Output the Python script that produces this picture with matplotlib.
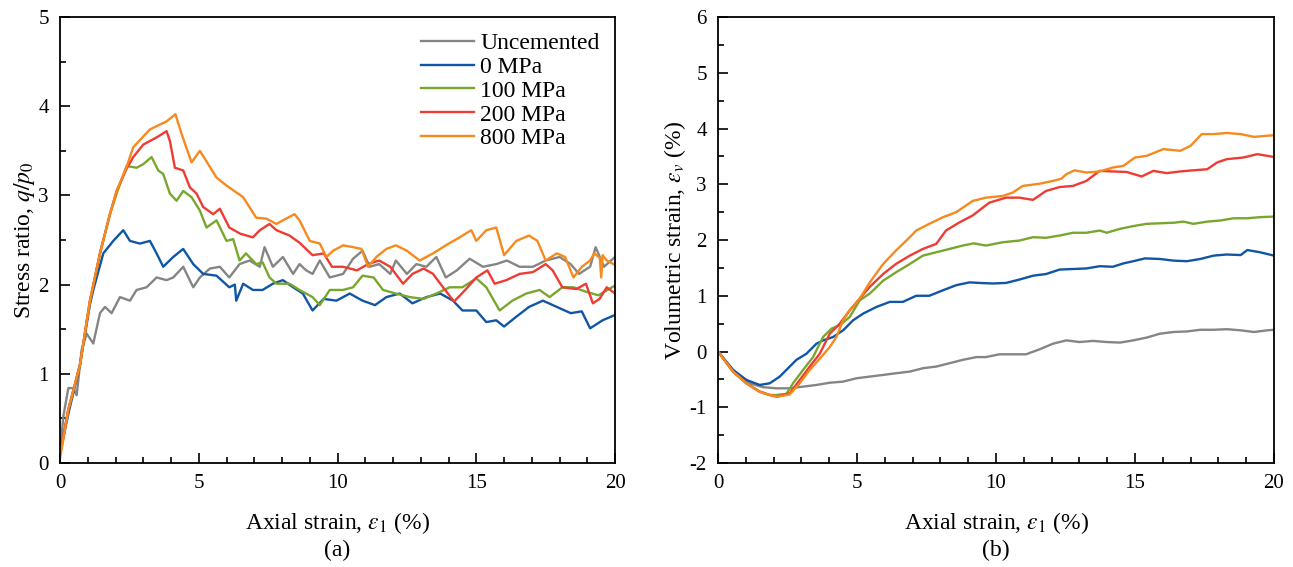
import numpy as np
import matplotlib.pyplot as plt

plt.rcParams['font.family'] = 'Liberation Serif'
plt.rcParams['mathtext.fontset'] = 'stix'
plt.rcParams['axes.unicode_minus'] = False

labels = ['Uncemented', '0 MPa', '100 MPa', '200 MPa', '800 MPa']
colors = ['#858585', '#1156a5', '#78a72d', '#ee3b33', '#f68a1e']

# (a) stress ratio q/p0 vs axial strain
qp_x = [
    [0, 0.12, 0.3, 0.48, 0.6, 0.78, 0.96, 1.2, 1.44, 1.62, 1.86, 2.16, 2.52, 2.76, 3.12, 3.48, 3.84, 4.08,
     4.44, 4.8, 5.04, 5.4, 5.76, 6.1, 6.47, 6.83, 7.2, 7.37, 7.67, 8.03, 8.4, 8.63, 8.87, 9.1, 9.36, 9.72,
     10.2, 10.56, 10.9, 11.16, 11.5, 11.9, 12.1, 12.5, 12.84, 13.2, 13.56, 13.9, 14.3, 14.76, 15.24, 15.72,
     16.1, 16.56, 17.04, 17.5, 18.0, 18.4, 18.7, 19.1, 19.3, 19.6, 20],
    [0, 0.3, 0.72, 1.08, 1.2, 1.56, 1.92, 2.28, 2.52, 2.88, 3.24, 3.48, 3.72, 4.08, 4.44, 4.8, 5.16, 5.64,
     6.1, 6.3, 6.35, 6.6, 6.95, 7.3, 7.67, 8.03, 8.4, 8.75, 9.1, 9.5, 9.96, 10.44, 10.9, 11.35, 11.76,
     12.24, 12.7, 13.2, 13.7, 14.16, 14.5, 15.0, 15.36, 15.72, 16.0, 16.44, 16.9, 17.4, 17.9, 18.4, 18.8,
     19.1, 19.55, 20],
    [0, 0.3, 0.72, 1.08, 1.44, 1.8, 2.04, 2.4, 2.76, 3.0, 3.3, 3.54, 3.72, 3.96, 4.2, 4.44, 4.74, 5.04,
     5.28, 5.64, 6.0, 6.24, 6.47, 6.7, 7.07, 7.3, 7.55, 7.8, 8.27, 8.63, 9.1, 9.36, 9.72, 10.2, 10.56,
     10.9, 11.3, 11.64, 12.1, 12.6, 13.1, 13.56, 14.04, 14.5, 15.0, 15.36, 15.84, 16.3, 16.8, 17.28,
     17.64, 18.1, 18.5, 18.95, 19.4, 20],
    [0, 0.3, 0.72, 1.08, 1.44, 1.8, 2.04, 2.4, 2.64, 3.0, 3.48, 3.84, 3.96, 4.14, 4.44, 4.68, 4.92, 5.16,
     5.52, 5.76, 6.1, 6.5, 6.95, 7.2, 7.55, 7.8, 8.27, 8.63, 9.1, 9.5, 9.8, 10.2, 10.7, 11.1, 11.5, 11.9,
     12.36, 12.7, 13.1, 13.44, 13.8, 14.2, 14.6, 15.0, 15.4, 15.66, 16.08, 16.56, 17.04, 17.5, 17.75,
     18.1, 18.6, 18.95, 19.2, 19.44, 19.7, 20],
    [0, 0.3, 0.72, 1.08, 1.44, 1.8, 2.04, 2.4, 2.64, 3.24, 3.84, 4.16, 4.38, 4.74, 5.04, 5.64, 6.0, 6.6,
     7.07, 7.43, 7.8, 8.03, 8.45, 8.63, 9.0, 9.36, 9.6, 9.84, 10.2, 10.56, 10.86, 11.1, 11.4, 11.76,
     12.1, 12.5, 12.96, 13.44, 13.9, 14.4, 14.82, 15.0, 15.36, 15.72, 16.0, 16.44, 16.9, 17.2, 17.5,
     17.9, 18.2, 18.5, 18.8, 19.1, 19.25, 19.45, 19.5, 19.55, 19.7, 20],
]
qp_y = [
    [0.1, 0.52, 0.84, 0.84, 0.76, 1.27, 1.45, 1.34, 1.68, 1.75, 1.68, 1.86, 1.82, 1.94, 1.97, 2.08, 2.05,
     2.08, 2.2, 1.97, 2.08, 2.18, 2.2, 2.08, 2.23, 2.27, 2.2, 2.42, 2.2, 2.31, 2.12, 2.23, 2.16, 2.12,
     2.27, 2.08, 2.12, 2.29, 2.38, 2.2, 2.23, 2.12, 2.27, 2.12, 2.23, 2.2, 2.31, 2.08, 2.16, 2.29, 2.2,
     2.23, 2.27, 2.2, 2.2, 2.27, 2.31, 2.23, 2.12, 2.2, 2.42, 2.2, 2.31],
    [0.1, 0.55, 1.1, 1.78, 1.94, 2.35, 2.49, 2.61, 2.49, 2.46, 2.49, 2.35, 2.2, 2.31, 2.4, 2.23, 2.12,
     2.1, 1.97, 2.0, 1.82, 2.01, 1.94, 1.94, 2.01, 2.05, 1.97, 1.9, 1.71, 1.84, 1.82, 1.9, 1.82, 1.77,
     1.86, 1.9, 1.79, 1.86, 1.9, 1.82, 1.71, 1.71, 1.58, 1.6, 1.53, 1.64, 1.75, 1.82, 1.75, 1.68, 1.7,
     1.51, 1.6, 1.66],
    [0.1, 0.6, 1.1, 1.82, 2.35, 2.79, 3.02, 3.33, 3.31, 3.35, 3.43, 3.28, 3.24, 3.02, 2.94, 3.05, 2.98,
     2.83, 2.64, 2.72, 2.49, 2.51, 2.27, 2.35, 2.23, 2.25, 2.08, 2.01, 2.01, 1.94, 1.86, 1.77, 1.94,
     1.94, 1.97, 2.1, 2.08, 1.94, 1.9, 1.86, 1.84, 1.9, 1.97, 1.97, 2.07, 1.97, 1.71, 1.82, 1.9, 1.94,
     1.86, 1.97, 1.97, 1.92, 1.88, 1.99],
    [0.1, 0.6, 1.1, 1.82, 2.35, 2.79, 3.05, 3.3, 3.43, 3.57, 3.65, 3.72, 3.61, 3.31, 3.28, 3.09, 3.02,
     2.87, 2.79, 2.85, 2.64, 2.57, 2.53, 2.61, 2.68, 2.61, 2.55, 2.47, 2.33, 2.35, 2.2, 2.2, 2.16, 2.23,
     2.27, 2.2, 2.01, 2.12, 2.18, 2.12, 1.97, 1.81, 1.94, 2.08, 2.16, 2.01, 2.05, 2.12, 2.14, 2.23, 2.16,
     1.97, 1.95, 2.01, 1.79, 1.84, 1.97, 1.9],
    [0.05, 0.6, 1.1, 1.82, 2.35, 2.79, 3.05, 3.32, 3.54, 3.74, 3.83, 3.91, 3.69, 3.37, 3.5, 3.2, 3.11,
     2.98, 2.75, 2.74, 2.68, 2.72, 2.79, 2.72, 2.49, 2.46, 2.31, 2.38, 2.44, 2.42, 2.4, 2.2, 2.31, 2.4,
     2.44, 2.38, 2.27, 2.35, 2.44, 2.53, 2.61, 2.49, 2.61, 2.64, 2.33, 2.49, 2.55, 2.49, 2.27, 2.35,
     2.31, 2.08, 2.2, 2.27, 2.35, 2.3, 2.08, 2.33, 2.27, 2.22],
]

# (b) volumetric strain vs axial strain
ev_x = [
    [0, 0.54, 1.14, 1.62, 2.1, 2.58, 3.06, 3.54, 4.02, 4.5, 4.98, 5.46, 5.94, 6.4, 6.9, 7.37, 7.85, 8.33,
     8.8, 9.3, 9.64, 10.12, 10.6, 11.08, 11.57, 12.05, 12.53, 13.0, 13.49, 13.98, 14.46, 14.94, 15.42,
     15.9, 16.39, 16.87, 17.35, 17.83, 18.3, 18.8, 19.28, 19.76, 20],
    [0, 0.54, 1.02, 1.5, 1.86, 2.22, 2.46, 2.82, 3.18, 3.54, 3.78, 4.14, 4.5, 4.86, 5.22, 5.7, 6.18, 6.65,
     7.13, 7.6, 8.1, 8.57, 9.05, 9.4, 9.88, 10.36, 10.84, 11.33, 11.8, 12.29, 12.77, 13.25, 13.73, 14.2,
     14.58, 14.94, 15.36, 15.9, 16.39, 16.87, 17.35, 17.83, 18.3, 18.8, 19.04, 19.5, 20],
    [0, 0.54, 1.02, 1.5, 1.86, 2.1, 2.46, 2.7, 3.06, 3.42, 3.78, 4.08, 4.38, 4.74, 5.1, 5.46, 5.94, 6.4,
     6.9, 7.37, 7.85, 8.33, 8.8, 9.2, 9.64, 10.24, 10.84, 11.33, 11.8, 12.29, 12.77, 13.25, 13.73, 13.98,
     14.46, 14.94, 15.42, 15.9, 16.39, 16.75, 17.1, 17.6, 18.07, 18.55, 19.04, 19.5, 20],
    [0, 0.54, 1.02, 1.5, 1.86, 2.1, 2.58, 2.94, 3.3, 3.66, 4.02, 4.38, 4.74, 5.1, 5.46, 5.94, 6.4, 6.9,
     7.37, 7.85, 8.2, 8.7, 9.16, 9.76, 10.36, 10.84, 11.33, 11.8, 12.29, 12.77, 13.25, 13.73, 14.2, 14.7,
     15.24, 15.66, 16.14, 16.63, 17.1, 17.6, 17.95, 18.3, 18.9, 19.4, 20],
    [0, 0.54, 1.02, 1.5, 1.86, 2.16, 2.58, 2.94, 3.3, 3.66, 4.02, 4.26, 4.5, 4.74, 5.1, 5.46, 5.94, 6.4,
     6.9, 7.13, 7.6, 8.1, 8.57, 9.16, 9.64, 10.24, 10.6, 10.96, 11.57, 12.05, 12.35, 12.53, 12.83, 13.25,
     13.73, 14.2, 14.58, 15.0, 15.42, 16.02, 16.63, 17.0, 17.4, 17.83, 18.3, 18.8, 19.28, 20],
]
ev_y = [
    [0, -0.33, -0.57, -0.64, -0.66, -0.66, -0.63, -0.6, -0.56, -0.54, -0.48, -0.45, -0.42, -0.39, -0.36,
     -0.3, -0.27, -0.21, -0.15, -0.1, -0.1, -0.05, -0.05, -0.05, 0.04, 0.14, 0.2, 0.17, 0.19, 0.17, 0.16,
     0.2, 0.25, 0.32, 0.35, 0.36, 0.39, 0.39, 0.4, 0.38, 0.35, 0.38, 0.39],
    [0, -0.33, -0.51, -0.6, -0.57, -0.45, -0.33, -0.15, -0.04, 0.14, 0.2, 0.26, 0.38, 0.56, 0.68, 0.8,
     0.89, 0.89, 1.0, 1.0, 1.1, 1.19, 1.24, 1.23, 1.22, 1.23, 1.29, 1.36, 1.39, 1.47, 1.48, 1.49, 1.53,
     1.52, 1.58, 1.62, 1.67, 1.66, 1.63, 1.62, 1.66, 1.72, 1.74, 1.73, 1.82, 1.78, 1.72],
    [0, -0.36, -0.57, -0.72, -0.78, -0.78, -0.76, -0.57, -0.33, -0.1, 0.26, 0.41, 0.47, 0.62, 0.92, 1.04,
     1.27, 1.42, 1.57, 1.72, 1.78, 1.84, 1.9, 1.94, 1.9, 1.96, 1.99, 2.05, 2.04, 2.08, 2.13, 2.13, 2.17,
     2.13, 2.2, 2.25, 2.29, 2.3, 2.31, 2.33, 2.29, 2.33, 2.35, 2.39, 2.39, 2.41, 2.42],
    [0, -0.36, -0.57, -0.72, -0.78, -0.81, -0.75, -0.51, -0.27, -0.04, 0.32, 0.5, 0.74, 0.95, 1.16, 1.39,
     1.57, 1.72, 1.84, 1.93, 2.17, 2.32, 2.44, 2.67, 2.76, 2.76, 2.72, 2.88, 2.95, 2.97, 3.06, 3.24, 3.23,
     3.22, 3.14, 3.24, 3.2, 3.23, 3.25, 3.27, 3.39, 3.45, 3.48, 3.54, 3.49],
    [0, -0.36, -0.57, -0.72, -0.78, -0.81, -0.77, -0.57, -0.33, -0.13, 0.08, 0.26, 0.56, 0.74, 0.95, 1.24,
     1.57, 1.81, 2.05, 2.17, 2.29, 2.41, 2.5, 2.7, 2.76, 2.79, 2.85, 2.97, 3.01, 3.06, 3.1, 3.18, 3.25,
     3.21, 3.23, 3.3, 3.33, 3.48, 3.51, 3.63, 3.6, 3.69, 3.9, 3.9, 3.92, 3.9, 3.85, 3.88],
]

fig = plt.figure(figsize=(12.93, 5.67), dpi=100)
ax1 = fig.add_axes([0.0464, 0.1834, 0.4293, 0.7866])
ax2 = fig.add_axes([0.5553, 0.1834, 0.4300, 0.7866])

for i in range(len(labels)):
    ax1.plot(qp_x[i], qp_y[i], color=colors[i], lw=1.7, label=labels[i])
    ax2.plot(ev_x[i], ev_y[i], color=colors[i], lw=1.7)

ax1.set_xlim(0, 20)
ax1.set_ylim(0, 5)
ax1.set_xticks([0, 5, 10, 15, 20])
ax1.set_xticks(np.arange(0, 21, 1), minor=True)
ax1.set_yticks([0, 1, 2, 3, 4, 5])
ax1.set_yticks(np.arange(0, 5.01, 0.5), minor=True)
ax1.set_ylabel(r'Stress ratio, $q/p_0$', fontsize=17, labelpad=1)

ax2.set_xlim(0, 20)
ax2.set_ylim(-2, 6)
ax2.set_xticks([0, 5, 10, 15, 20])
ax2.set_xticks(np.arange(0, 21, 1), minor=True)
ax2.set_yticks(np.arange(-2, 7, 1))
ax2.set_yticks(np.arange(-2, 6.01, 0.5), minor=True)
ax2.set_ylabel(r'Volumetric strain, $\varepsilon_v$ (%)', fontsize=17, labelpad=1)

for ax, tag in [(ax1, '(a)'), (ax2, '(b)')]:
    ax.set_xlabel(r'Axial strain, $\varepsilon_1$ (%)', fontsize=17, labelpad=12)
    ax.tick_params(which='both', direction='in', labelsize=15, width=1.2)
    ax.tick_params(which='major', length=7, pad=8)
    ax.tick_params(which='minor', length=4)
    for s in ax.spines.values():
        s.set_linewidth(1.3)
    ax.text(0.5, -0.172, tag, transform=ax.transAxes, ha='center', va='top', fontsize=17)

ax1.legend(loc='upper right', frameon=False, fontsize=17, handlelength=2.25,
           handletextpad=0.25, labelspacing=0.1, borderaxespad=0.25)

fig.savefig('out.png', dpi=100)
